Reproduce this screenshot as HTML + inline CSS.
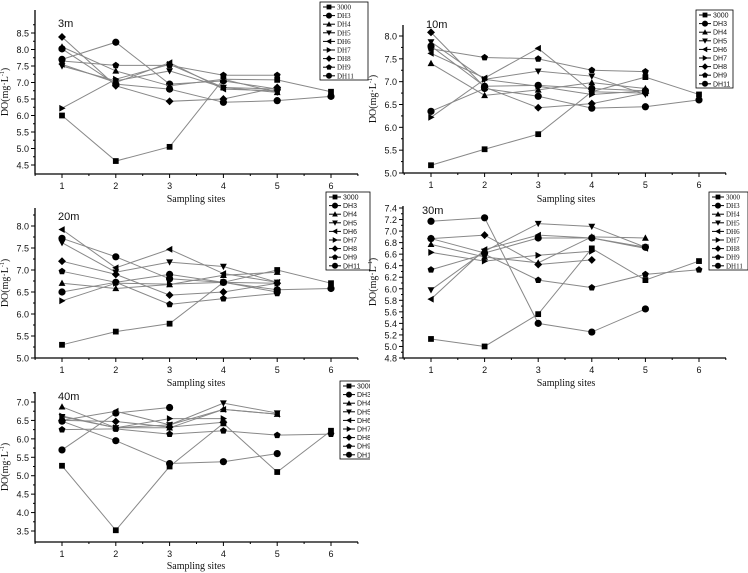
<!DOCTYPE html>
<html><head><meta charset="utf-8"><style>
body{margin:0;background:#fff}
svg{display:block}
text{font-family:"Liberation Sans",sans-serif;fill:#111}
.serif{font-family:"Liberation Serif",serif}
</style></head><body>
<svg id="c" width="748" height="573" viewBox="0 0 748 573">
<defs><clipPath id="clip5"><rect x="0" y="370" width="370" height="203"/></clipPath></defs>
</svg>
<script>
const seriesNames = ["3000","DH3","DH4","DH5","DH6","DH7","DH8","DH9","DH11"];
const sites = [1,2,3,4,5,6];
const d3m = [[6.0,4.62,5.05,7.1,7.08,6.72],[7.7,8.22,6.95,7.05,6.8],[8.08,7.35,6.9,7.1,6.7],[7.5,7.05,7.35,6.85,6.7],[7.55,7.0,7.6,6.8,6.75],[6.22,7.1,7.55,6.85,6.8],[8.38,6.9,6.43,6.5,6.85],[7.65,7.52,7.52,7.22,7.22],[8.02,6.95,6.8,6.4,6.45,6.58]];
const d10m = [[5.17,5.52,5.85,6.78,7.1,6.72],[6.35,6.85,6.68,6.42,6.45,6.6],[7.4,6.7,6.82,6.98,6.85],[7.87,7.05,7.23,7.12,6.72],[7.62,7.08,7.73,6.78,6.75],[6.22,7.05,6.9,6.72,6.8],[8.08,6.88,6.43,6.52,6.75],[7.72,7.53,7.5,7.25,7.22],[7.78,6.9,6.92,6.85,6.8]];
const d20m = [[5.3,5.6,5.78,6.72,7.0,6.7],[6.5,6.72,6.9,6.72,6.55,6.58],[6.7,6.58,6.67,6.88,6.95],[7.62,6.95,7.18,7.08,6.72],[7.92,7.05,7.47,6.92,6.72],[6.3,6.7,6.68,6.72,6.7],[7.2,6.9,6.43,6.5,6.7],[6.97,6.72,6.22,6.35,6.47],[7.72,7.3,6.8,6.72,6.5]];
const d30m = [[5.13,5.0,5.56,6.7,6.15,6.48],[7.17,7.23,5.4,5.25,5.65],[6.77,6.55,6.45,6.9,6.88],[5.98,6.65,7.13,7.08,6.72],[5.82,6.68,6.93,6.88,6.7],[6.63,6.48,6.58,6.65],[6.87,6.93,6.42,6.5],[6.33,6.6,6.15,6.02,6.25,6.33],[6.87,6.62,6.88,6.88,6.72]];
const d40m = [[5.27,3.52,5.25,6.42,5.1,6.22],[5.7,6.7,6.85],[6.87,6.3,6.3,6.8,6.67],[6.6,6.3,6.38,6.97,6.7],[6.5,6.75,6.38,6.8,6.67],[6.62,6.3,6.55,6.55],[6.5,6.47,6.32,6.45],[6.25,6.27,6.13,6.22,6.1,6.13],[6.48,5.95,5.33,5.38,5.6]];
const ticks3m = [4.5,5.0,5.5,6.0,6.5,7.0,7.5,8.0,8.5];
const ticks10m = [5.0,5.5,6.0,6.5,7.0,7.5,8.0];
const ticks20m = [5.0,5.5,6.0,6.5,7.0,7.5,8.0];
const ticks30m = [4.8,5.0,5.2,5.4,5.6,5.8,6.0,6.2,6.4,6.6,6.8,7.0,7.2,7.4];
const ticks40m = [3.5,4.0,4.5,5.0,5.5,6.0,6.5,7.0];

const NS="http://www.w3.org/2000/svg", svg=document.getElementById('c');
function el(tag,attrs,parent){const e=document.createElementNS(NS,tag);for(const k in attrs)e.setAttribute(k,attrs[k]);(parent||svg).appendChild(e);return e;}
function marker(g,i,x,y,r){
  let e;
  if(i===0) e=el('rect',{x:x-r*0.8,y:y-r*0.8,width:r*1.6,height:r*1.6,fill:'#000'},g);
  else if(i===1||i===8) e=el('circle',{cx:x,cy:y,r:r,fill:'#000'},g);
  else { let p;
    if(i===2) p=[[0,-1],[0.95,0.75],[-0.95,0.75]];
    else if(i===3) p=[[0,1],[0.95,-0.75],[-0.95,-0.75]];
    else if(i===4) p=[[-1,0],[0.75,-0.95],[0.75,0.95]];
    else if(i===5) p=[[1,0],[-0.75,-0.95],[-0.75,0.95]];
    else if(i===6) p=[[0,-1.1],[1.1,0],[0,1.1],[-1.1,0]];
    else p=[0,1,2,3,4].map(k=>[Math.sin(k*1.2566),-Math.cos(k*1.2566)]);
    e=el('polygon',{points:p.map(q=>(x+q[0]*r)+','+(y+q[1]*r)).join(' '),fill:'#000'},g);
  }
  return e;
}
const panels=[
 {id:'3m',data:d3m,ticks:ticks3m,left:35,right:358,top:10,bottom:174,x1:62,x6:331,vTop:8.5,yTop:33,vBot:4.5,yBot:165,minor:0.25,dec:1,lab:[58,27],leg:[320,2,48,78],legSerif:true,xt:[196,202]},
 {id:'10m',data:d10m,ticks:ticks10m,left:403,right:726,top:25,bottom:173,x1:431,x6:699,vTop:8.0,yTop:36,vBot:5.0,yBot:173,minor:0.25,dec:1,lab:[426,28],leg:[696,10,37,78],legSerif:false,xt:[566,202]},
 {id:'20m',data:d20m,ticks:ticks20m,left:35,right:358,top:208,bottom:358,x1:62,x6:331,vTop:8.0,yTop:226,vBot:5.0,yBot:358,minor:0.25,dec:1,lab:[58,220],leg:[326,192,44,78],legSerif:false,xt:[196,386]},
 {id:'30m',data:d30m,ticks:ticks30m,left:403,right:726,top:206,bottom:358,x1:431,x6:699,vTop:7.4,yTop:208,vBot:4.8,yBot:358,minor:0.1,dec:1,lab:[422,214],leg:[709,192,39,78],legSerif:true,xt:[566,386]},
 {id:'40m',data:d40m,ticks:ticks40m,left:35,right:358,top:392,bottom:542,x1:62,x6:331,vTop:7.0,yTop:402,vBot:3.5,yBot:531,minor:0.25,dec:1,lab:[58,400],leg:[340,381,40,78],legSerif:false,xt:[196,569],clip:true}
];
panels.forEach(P=>{
  const g=el('g',{});
  
  
  const xs=s=>P.x1+(s-1)*(P.x6-P.x1)/5;
  const ys=v=>P.yTop+(P.vTop-v)*(P.yBot-P.yTop)/(P.vTop-P.vBot);
  const ax=el('path',{d:`M${P.left},${P.top}V${P.bottom}H${P.right}`,stroke:'#000','stroke-width':1.3,fill:'none'},g);
  
  
  sites.forEach(s=>{
    el('line',{x1:xs(s),x2:xs(s),y1:P.bottom,y2:P.bottom+4,stroke:'#000'},g);
    el('line',{x1:xs(s+0.5),x2:xs(s+0.5),y1:P.bottom,y2:P.bottom+2,stroke:'#000'},g);
    if(s===1) el('line',{x1:xs(0.5),x2:xs(0.5),y1:P.bottom,y2:P.bottom+2,stroke:'#000'},g);
    const t=el('text',{x:xs(s),y:P.bottom+15,'font-size':9,'text-anchor':'middle'},g);t.textContent=s;
    
    
  });
  P.ticks.forEach(v=>{
    const y=ys(v);
    el('line',{x1:P.left-4,x2:P.left,y1:y,y2:y,stroke:'#000'},g);
    const ym=ys(v+P.minor);
    if(ym>P.top) el('line',{x1:P.left-2,x2:P.left,y1:ym,y2:ym,stroke:'#000'},g);
    const t=el('text',{x:P.left-6,y:y+3.5,'font-size':9,'text-anchor':'end'},g);t.textContent=v.toFixed(P.dec);
    
    
  });
  const lb=el('text',{x:P.lab[0],y:P.lab[1],'font-size':11},g);lb.textContent=P.id;
  
  
  const xt=el('text',{x:P.xt[0],y:P.xt[1],'font-size':10,'text-anchor':'middle',class:'serif'},g);xt.textContent='Sampling sites';
  
  
  const cy=(P.top+P.bottom)/2, cx=P.left-27;
  const yt=el('text',{x:cx,y:cy,'font-size':10,'text-anchor':'middle',class:'serif',transform:`rotate(-90 ${cx} ${cy})`},g);
  yt.innerHTML='DO(mg·L<tspan dy="-4" font-size="6">-1</tspan><tspan dy="4">)</tspan>';
  
  
  P.data.forEach((vals,i)=>{
    const sg=el('g',{},g);
    
    
    const pts=vals.map((v,k)=>[xs(sites[k]),ys(v)]);
    el('polyline',{points:pts.map(p=>p.join(',')).join(' '),fill:'none',stroke:'#888','stroke-width':1},sg);
    pts.forEach(p=>{const m=marker(sg,i,p[0],p[1],3.6);
      
      });
  });
  const lg=el('g',P.clip?{'clip-path':'url(#clip5)'}:{},g);
  
  
  const [lx,ly,lw,lh]=P.leg;
  el('rect',{x:lx,y:ly,width:lw,height:lh,fill:'#fff',stroke:'#000','stroke-width':0.8},lg);
  seriesNames.forEach((n,i)=>{
    const y=ly+5+i*8.6;
    const e=el('g',{},lg);
    
    
    el('line',{x1:lx+3,x2:lx+15,y1:y,y2:y,stroke:'#000'},e);
    marker(e,i,lx+9,y,3);
    const t=el('text',{x:lx+17,y:y+2.5,'font-size':7,class:P.legSerif?'serif':''},e);t.textContent=n;
  });
});
</script>
</body></html>
